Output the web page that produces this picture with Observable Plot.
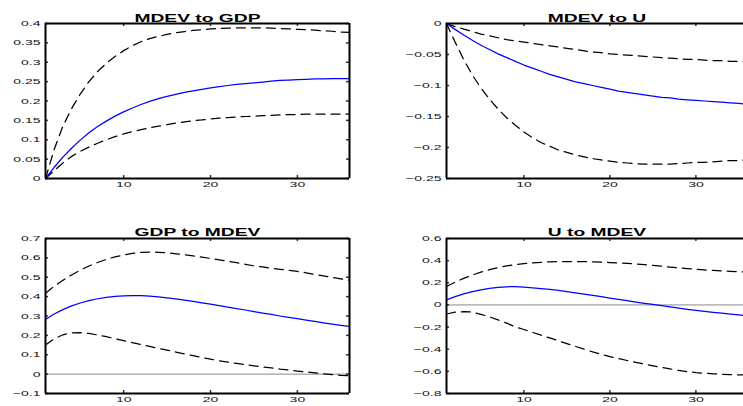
<!DOCTYPE html>
<html><head><meta charset="utf-8">
<script src="https://cdn.jsdelivr.net/npm/d3@7"></script>
<script src="https://cdn.jsdelivr.net/npm/@observablehq/plot@0.6"></script>
<style>
html,body{margin:0;padding:0;background:#fff;overflow:hidden;}
#wrap{position:relative;width:743px;height:406px;overflow:hidden;background:#fff;}
.panel{position:absolute;}
.panel svg{max-width:none !important;}
</style></head><body><div id="wrap"></div>
<script>
const horizon = [1,2,3,4,5,6,7,8,9,10,11,12,13,14,15,16,17,18,19,20,21,22,23,24,25,26,27,28,29,30,31,32,33,34,35,36];
const xTicks = [10, 20, 30];

const mdevGdpMed = [0,0.029,0.055,0.078,0.099,0.118,0.134,0.148,0.161,0.172,0.182,0.191,0.199,0.206,0.212,0.217,0.222,0.226,0.230,0.234,0.237,0.240,0.243,0.245,0.247,0.249,0.251,0.253,0.254,0.255,0.256,0.257,0.257,0.258,0.258,0.258];
const mdevGdpHi = [0,0.075,0.135,0.18,0.218,0.25,0.276,0.297,0.315,0.33,0.343,0.353,0.361,0.367,0.372,0.376,0.379,0.382,0.384,0.386,0.387,0.388,0.389,0.389,0.389,0.389,0.388,0.387,0.386,0.385,0.384,0.383,0.381,0.380,0.378,0.377];
const mdevGdpLo = [0,0.02,0.04,0.057,0.07,0.081,0.091,0.1,0.108,0.115,0.121,0.126,0.131,0.135,0.139,0.143,0.146,0.149,0.151,0.154,0.156,0.157,0.159,0.16,0.161,0.162,0.163,0.164,0.165,0.165,0.166,0.166,0.166,0.166,0.166,0.166];
const mdevGdpTicks = [0,0.05,0.1,0.15,0.2,0.25,0.3,0.35,0.4];

const mdevUMed = [0,-0.0095,-0.0185,-0.027,-0.035,-0.042,-0.049,-0.055,-0.061,-0.067,-0.072,-0.077,-0.082,-0.086,-0.090,-0.094,-0.097,-0.100,-0.103,-0.106,-0.109,-0.111,-0.113,-0.115,-0.117,-0.119,-0.120,-0.122,-0.123,-0.124,-0.125,-0.126,-0.127,-0.128,-0.129,-0.130];
const mdevUHi = [0,-0.005,-0.009,-0.013,-0.017,-0.020,-0.023,-0.026,-0.028,-0.030,-0.032,-0.034,-0.036,-0.038,-0.040,-0.042,-0.044,-0.046,-0.047,-0.049,-0.050,-0.051,-0.052,-0.053,-0.054,-0.055,-0.056,-0.057,-0.058,-0.058,-0.059,-0.060,-0.060,-0.061,-0.061,-0.062];
const mdevULo = [0,-0.03,-0.058,-0.083,-0.104,-0.122,-0.138,-0.152,-0.164,-0.175,-0.184,-0.192,-0.198,-0.204,-0.208,-0.212,-0.215,-0.218,-0.220,-0.222,-0.224,-0.225,-0.226,-0.227,-0.227,-0.227,-0.227,-0.226,-0.225,-0.224,-0.224,-0.223,-0.222,-0.221,-0.221,-0.220];
const mdevUTicks = [-0.25,-0.2,-0.15,-0.1,-0.05,0];

const gdpMdevMed = [0.282,0.31,0.333,0.352,0.367,0.379,0.389,0.396,0.401,0.404,0.405,0.405,0.403,0.399,0.393,0.388,0.382,0.375,0.368,0.361,0.353,0.346,0.338,0.331,0.323,0.315,0.308,0.300,0.293,0.286,0.279,0.272,0.265,0.258,0.252,0.246];
const gdpMdevHi = [0.418,0.453,0.484,0.512,0.537,0.558,0.576,0.592,0.605,0.615,0.623,0.628,0.63,0.629,0.626,0.621,0.616,0.61,0.604,0.597,0.59,0.583,0.575,0.567,0.559,0.553,0.547,0.541,0.536,0.53,0.523,0.515,0.507,0.499,0.492,0.484];
const gdpMdevLo = [0.15,0.182,0.203,0.213,0.214,0.21,0.202,0.193,0.183,0.173,0.163,0.153,0.143,0.133,0.124,0.114,0.104,0.095,0.086,0.077,0.069,0.062,0.055,0.049,0.043,0.037,0.032,0.026,0.021,0.016,0.011,0.007,0.002,-0.002,-0.006,-0.009];
const gdpMdevTicks = [-0.1,0,0.1,0.2,0.3,0.4,0.5,0.6,0.7];

const uMdevMed = [0.045,0.075,0.1,0.12,0.136,0.149,0.158,0.164,0.166,0.16,0.155,0.148,0.140,0.131,0.120,0.109,0.098,0.086,0.074,0.062,0.050,0.038,0.026,0.015,0.004,-0.007,-0.018,-0.029,-0.040,-0.050,-0.059,-0.067,-0.075,-0.083,-0.090,-0.097];
const uMdevHi = [0.166,0.205,0.24,0.27,0.296,0.318,0.337,0.352,0.364,0.373,0.38,0.385,0.389,0.391,0.392,0.392,0.391,0.389,0.386,0.383,0.379,0.375,0.37,0.364,0.358,0.350,0.342,0.335,0.328,0.321,0.316,0.312,0.308,0.304,0.3,0.296];
const uMdevLo = [-0.082,-0.066,-0.06,-0.065,-0.085,-0.108,-0.135,-0.165,-0.198,-0.222,-0.248,-0.273,-0.298,-0.324,-0.350,-0.375,-0.400,-0.424,-0.446,-0.467,-0.485,-0.502,-0.518,-0.534,-0.550,-0.565,-0.578,-0.592,-0.603,-0.611,-0.617,-0.622,-0.626,-0.629,-0.631,-0.632];
const uMdevTicks = [-0.8,-0.6,-0.4,-0.2,0,0.2,0.4,0.6];

const fmt = d => {
  const s = String(+Math.abs(d).toFixed(3));
  return d < 0 ? "\u2212" + s : s;
};

const STRETCH = 1.75;
const wrap = document.getElementById("wrap");

function panel(o) {
  const iw = o.width - o.mL - o.mR, ih = o.height - o.mT - o.mB;
  const rows = horizon.map((h, i) => ({h, med: o.med[i], lo: o.lo[i], hi: o.hi[i]}));
  const marks = [];
  if (o.zero) marks.push(Plot.ruleY([0], {stroke: "#8a8a8a", strokeWidth: 1}));
  marks.push(
    Plot.line(rows, {x: "h", y: "hi", stroke: "#000", strokeWidth: 1.25, strokeDasharray: "9,6"}),
    Plot.line(rows, {x: "h", y: "lo", stroke: "#000", strokeWidth: 1.25, strokeDasharray: "9,6"}),
    Plot.line(rows, {x: "h", y: "med", stroke: "#0000ff", strokeWidth: 1.25}),
    Plot.tickY(o.yTicks, {y: d => d, insetRight: iw - 3, stroke: "#333", strokeWidth: 1.5}),
    Plot.tickY(o.yTicks, {y: d => d, insetLeft: iw - 3, stroke: "#333", strokeWidth: 1.5}),
    Plot.tickX(xTicks, {x: d => d, insetTop: ih - 3, stroke: "#333", strokeWidth: 1.5}),
    Plot.tickX(xTicks, {x: d => d, insetBottom: ih - 3, stroke: "#333", strokeWidth: 1.5}),
    Plot.ruleX(o.xDomain, {stroke: "#000", strokeWidth: 2}),
    Plot.ruleY(o.yDomain, {stroke: "#000", strokeWidth: 2}),
    Plot.axisY({ticks: o.yTicks, tickSize: 0, tickPadding: 5, tickFormat: fmt, label: null}),
    Plot.axisX({ticks: xTicks, tickSize: 0, tickPadding: 3, label: null}),
    Plot.text([o.title], {frameAnchor: "top", dy: o.titleDy, fontWeight: "bold", fontSize: 11, fill: "#000"})
  );
  const chart = Plot.plot({
    width: o.width, height: o.height,
    marginLeft: o.mL, marginRight: o.mR, marginTop: o.mT, marginBottom: o.mB,
    x: {domain: o.xDomain},
    y: {domain: o.yDomain},
    style: {fontFamily: "'Liberation Sans', Arial, Helvetica, sans-serif", fontSize: "8px", color: "#111", background: "transparent", overflow: "visible", maxWidth: "none"},
    marks
  });
  const div = document.createElement("div");
  div.className = "panel";
  div.style.left = o.left + "px";
  div.style.top = o.top + "px";
  div.style.width = o.width + "px";
  div.appendChild(chart);
  wrap.appendChild(div);
  chart.querySelectorAll("text").forEach(t => {
    const spans = t.querySelectorAll("tspan");
    const targets = spans.length ? Array.from(spans) : [t];
    targets.forEach(el => {
      const len = el.getComputedTextLength();
      if (len > 0) {
        el.setAttribute("textLength", (len * STRETCH).toFixed(2));
        el.setAttribute("lengthAdjust", "spacingAndGlyphs");
      }
    });
  });
}

const xDomain = [1, 36];
panel({title: "MDEV to GDP", med: mdevGdpMed, hi: mdevGdpHi, lo: mdevGdpLo, xDomain, yDomain: [0, 0.4], yTicks: mdevGdpTicks,
  left: 0, top: 0, width: 372, height: 200, mL: 45, mR: 23, mT: 23, mB: 22, titleDy: -9, zero: false});
panel({title: "MDEV to U", med: mdevUMed, hi: mdevUHi, lo: mdevULo, xDomain, yDomain: [-0.25, 0], yTicks: mdevUTicks,
  left: 372, top: 0, width: 400, height: 200, mL: 74, mR: 25, mT: 23, mB: 22, titleDy: -9, zero: false});
panel({title: "GDP to MDEV", med: gdpMdevMed, hi: gdpMdevHi, lo: gdpMdevLo, xDomain, yDomain: [-0.1, 0.7], yTicks: gdpMdevTicks,
  left: 0, top: 200, width: 372, height: 206, mL: 45, mR: 23, mT: 38, mB: 13, titleDy: -10, zero: true});
panel({title: "U to MDEV", med: uMdevMed, hi: uMdevHi, lo: uMdevLo, xDomain, yDomain: [-0.8, 0.6], yTicks: uMdevTicks,
  left: 372, top: 200, width: 400, height: 206, mL: 74, mR: 25, mT: 38, mB: 13, titleDy: -10, zero: true});
</script>
</body></html>
